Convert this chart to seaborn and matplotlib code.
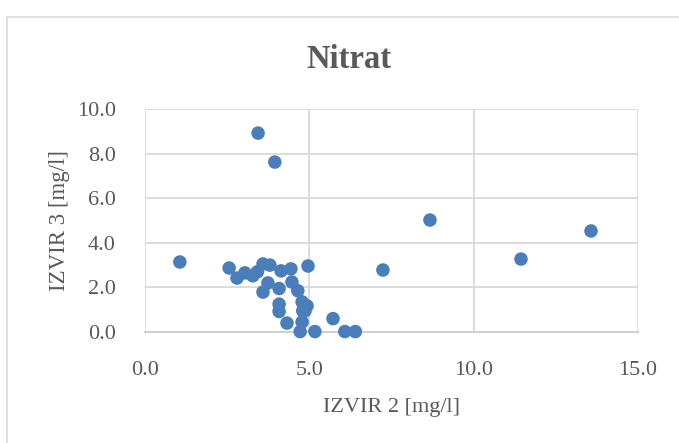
import matplotlib
matplotlib.use("Agg")
import matplotlib.pyplot as plt
import seaborn as sns
import pandas as pd
from matplotlib.patches import Rectangle

# Nitrate concentrations at two springs [mg/l]
izvir2 = [1.06, 3.44, 3.95, 8.67, 13.57, 11.44, 7.24, 4.96, 2.56, 2.80,
          3.04, 3.28, 3.42, 3.59, 3.80, 4.14, 4.44, 4.47, 3.74, 3.59,
          4.08, 4.65, 4.78, 4.08, 4.08, 4.93, 4.87, 4.32, 4.78, 4.72,
          5.17, 5.72, 6.08, 6.40, 4.80]
izvir3 = [3.14, 8.92, 7.62, 5.02, 4.53, 3.27, 2.78, 2.96, 2.87, 2.42,
          2.65, 2.52, 2.70, 3.05, 3.00, 2.74, 2.83, 2.24, 2.20, 1.79,
          1.95, 1.85, 1.35, 1.25, 0.92, 1.17, 0.95, 0.40, 0.45, 0.02,
          0.02, 0.60, 0.02, 0.02, 0.95]

x_ticks = [0.0, 5.0, 10.0, 15.0]
y_ticks = [0.0, 2.0, 4.0, 6.0, 8.0, 10.0]

df = pd.DataFrame({"IZVIR 2": izvir2, "IZVIR 3": izvir3})

sns.set_theme(style="white")
plt.rcParams["font.family"] = ["Liberation Serif", "DejaVu Serif"]

fig = plt.figure(figsize=(6.79, 4.43), dpi=100)
fig.patch.set_facecolor("white")
fig.patches.append(Rectangle((7 / 679, -0.05), 1.0, (443 - 17) / 443 + 0.05,
                             transform=fig.transFigure, fill=False,
                             edgecolor="#D9D9D9", linewidth=1.2))

ax = fig.add_axes([145 / 679, 111 / 443, 493 / 679, 223 / 443])
ax.set_axisbelow(True)
sns.scatterplot(data=df, x="IZVIR 2", y="IZVIR 3", ax=ax, color="#4A7EBB",
                s=95, edgecolor="none", linewidth=0, zorder=3, clip_on=False)

ax.set_xlim(0, 15)
ax.set_ylim(0, 10)
ax.set_xticks(x_ticks)
ax.set_yticks(y_ticks)
ax.set_xticklabels([f"{v:.1f}" for v in x_ticks])
ax.set_yticklabels([f"{v:.1f}" for v in y_ticks])
ax.grid(True, color="#D9D9D9", linewidth=1.3)
for side in ["left", "right", "top"]:
    ax.spines[side].set_visible(False)
ax.spines["bottom"].set_color("#D0D0D0")
ax.spines["bottom"].set_linewidth(1.5)
ax.tick_params(axis="both", length=0, labelsize=16, colors="#595959")
ax.tick_params(axis="x", pad=21)
ax.tick_params(axis="y", pad=21)

ax.set_xlabel("IZVIR 2 [mg/l]", fontsize=16, color="#595959", labelpad=13)
ax.set_ylabel("IZVIR 3 [mg/l]", fontsize=16.5, color="#595959", labelpad=5)
fig.text(349 / 679, 1 - 60 / 443, "Nitrat", ha="center", va="center",
         fontsize=23.5, fontweight="bold", color="#595959")

fig.savefig("out.png", dpi=100)
